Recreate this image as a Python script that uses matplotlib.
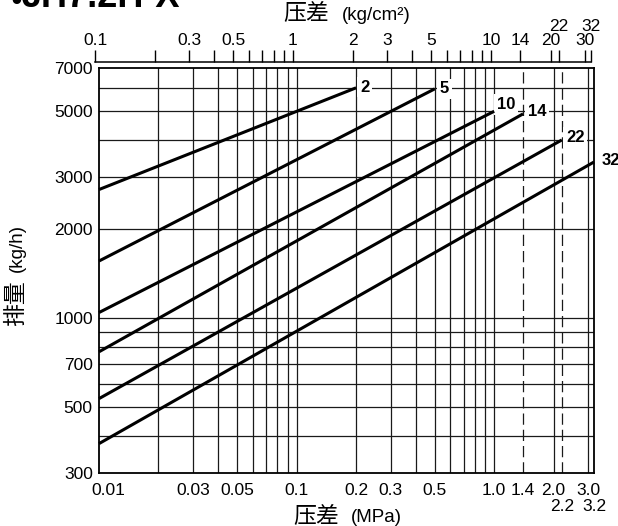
import numpy as np
import matplotlib
matplotlib.use('Agg')
import matplotlib.pyplot as plt
from matplotlib.ticker import NullLocator

plt.rcParams['font.family'] = ['Liberation Sans', 'Noto Sans CJK SC']

# curves: nominal pressure class, start / end point (MPa, kg/h)
names = ['2', '5', '10', '14', '22', '32']
p_start = [0.01, 0.01, 0.01, 0.01, 0.01, 0.01]
p_end = [0.2, 0.5, 1.0, 1.4, 2.2, 3.2]
q_start = [2720, 1560, 1045, 770, 535, 377]
q_end = [6000, 5950, 5000, 4900, 4000, 3370]
# label offsets (points) from curve end
lab_dx = [3, 3.5, 2, 3.5, 3, 5.5]
lab_dy = [0.5, 0, 5, 1.5, 2, 1]

# bottom axis (MPa)
x_grid = [0.02, 0.03, 0.04, 0.05, 0.06, 0.07, 0.08, 0.09, 0.1, 0.2, 0.3, 0.4,
          0.5, 0.6, 0.7, 0.8, 0.9, 1.0, 2.0, 3.0]
x_dashed = [1.4, 2.2]
x_labels = [0.01, 0.03, 0.05, 0.1, 0.2, 0.3, 0.5, 1.0, 1.4, 2.0, 3.0]
x_label_txt = ['0.01', '0.03', '0.05', '0.1', '0.2', '0.3', '0.5', '1.0', '1.4', '2.0', '3.0']
x_labels2 = [2.2, 3.2]
x_label2_txt = ['2.2', '3.2']

# y axis (kg/h)
y_grid = [400, 500, 600, 700, 800, 900, 1000, 2000, 3000, 4000, 5000, 6000]
y_ticks = [300, 500, 700, 1000, 2000, 3000, 5000, 7000]

# top scale (kg/cm2)
top_major = [0.1, 0.3, 0.5, 1, 2, 3, 5, 10, 14, 20, 30]
top_major_txt = ['0.1', '0.3', '0.5', '1', '2', '3', '5', '10', '14', '20', '30']
top_upper = [22, 32]
top_upper_txt = ['22', '32']
top_minor = [0.2, 0.4, 0.6, 0.7, 0.8, 0.9, 4, 6, 7, 8, 9, 22, 32]

W, H = 618, 526
fig = plt.figure(figsize=(W / 100, H / 100), dpi=100)
ax = fig.add_axes([99 / W, 1 - 473 / H, 495 / W, 405 / H])
ax.set_xscale('log')
ax.set_yscale('log')
ax.set_xlim(0.01, 3.2)
ax.set_ylim(300, 7000)

for v in x_grid:
    ax.axvline(v, color='#1a1a1a', lw=0.9, zorder=1)
for v in x_dashed:
    ax.axvline(v, color='#1a1a1a', lw=0.9, ls=(0, (9, 4)), zorder=1)
for v in y_grid:
    ax.axhline(v, color='#1a1a1a', lw=0.9, zorder=1)

for i in range(len(names)):
    ax.plot([p_start[i], p_end[i]], [q_start[i], q_end[i]], color='black',
            lw=2.2, solid_capstyle='butt', zorder=5, clip_on=False)
    ax.annotate(names[i], xy=(p_end[i], q_end[i]), xytext=(lab_dx[i], lab_dy[i]),
                textcoords='offset points', ha='left', va='center', fontsize=12,
                fontweight='bold', annotation_clip=False, zorder=4,
                bbox=dict(fc='white', ec='none', pad=2))

ax.xaxis.set_major_locator(NullLocator())
ax.xaxis.set_minor_locator(NullLocator())
ax.yaxis.set_minor_locator(NullLocator())
ax.set_yticks(y_ticks)
ax.set_yticklabels([str(v) for v in y_ticks])
ax.tick_params(axis='y', length=0, pad=4.5, labelsize=12.5)

for v, t in zip(x_labels, x_label_txt):
    dx = 7 if t == '0.01' else 0
    ax.annotate(t, xy=(v, 0), xycoords=('data', 'axes fraction'), xytext=(dx, -7),
                textcoords='offset points', ha='center', va='top', fontsize=12.5,
                annotation_clip=False)
for v, t in zip(x_labels2, x_label2_txt):
    ax.annotate(t, xy=(v, 0), xycoords=('data', 'axes fraction'), xytext=(0, -19),
                textcoords='offset points', ha='center', va='top', fontsize=12.5,
                annotation_clip=False)

for s in ax.spines.values():
    s.set_linewidth(1.3)

# top kg/cm2 scale strip
ax2 = fig.add_axes([95 / W, 1 - 62 / H - 0.001, 496 / W, 0.001])
ax2.set_xscale('log')
ax2.set_xlim(0.1, 32)
ax2.patch.set_visible(False)
for k in ['left', 'right', 'bottom']:
    ax2.spines[k].set_visible(False)
ax2.spines['top'].set_linewidth(1.1)
ax2.xaxis.tick_top()
ax2.set_xticks(top_major)
ax2.set_xticklabels(top_major_txt)
ax2.set_xticks(top_minor, minor=True)
ax2.xaxis.set_minor_formatter(plt.NullFormatter())
ax2.tick_params(axis='x', which='both', direction='out', length=8.6, width=1,
                pad=1.5, labelsize=12.5)
ax2.set_yticks([])
for v, t in zip(top_upper, top_upper_txt):
    ax2.annotate(t, xy=(v, 1), xycoords=('data', 'axes fraction'), xytext=(0, 20.5),
                 textcoords='offset points', ha='center', va='bottom', fontsize=12.5,
                 annotation_clip=False)

# axis titles
fig.text(306 / W, 1 - 14 / H, '压差', fontsize=16.5, ha='center', va='center')
fig.text(376 / W, 1 - 15 / H, '(kg/cm²)', fontsize=13.5, ha='center', va='center')
fig.text(316 / W, 1 - 517 / H, '压差', fontsize=16.5, ha='center', va='center')
fig.text(376 / W, 1 - 518 / H, '(MPa)', fontsize=13.5, ha='center', va='center')
fig.text(16 / W, 1 - 303 / H, '排量', fontsize=16.5, ha='center', va='center', rotation=90)
fig.text(17 / W, 1 - 248 / H, '(kg/h)', fontsize=13.5, ha='center', va='center', rotation=90)

# clipped title at the top edge
fig.text(10 / W, 1 - 5 / H, '●', fontsize=14, ha='left', va='baseline')
fig.text(22 / W, 1 - 7 / H, 'JH7.2H-X', fontsize=26, fontweight='bold',
         ha='left', va='baseline')

fig.savefig('out.png', dpi=100)
